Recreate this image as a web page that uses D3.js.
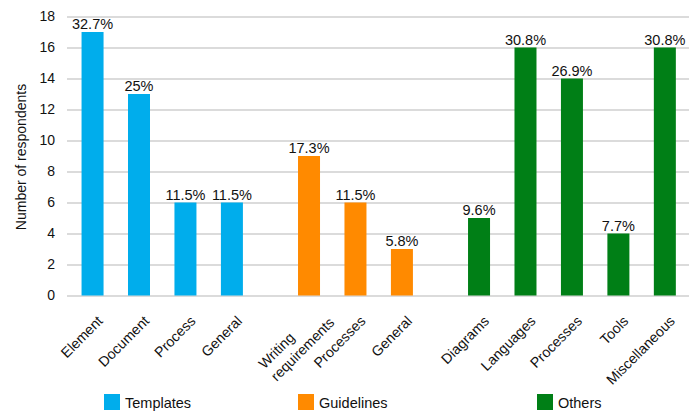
<!DOCTYPE html>
<html><head><meta charset="utf-8">
<script src="https://cdn.jsdelivr.net/npm/d3@7"></script>
<style>
html,body{margin:0;padding:0;background:#fff;}
text{font-family:"Liberation Sans",Arial,Helvetica,sans-serif;fill:#111;}
</style></head>
<body><svg id="chart" width="700" height="414"></svg>
<script>
// ---- data ----
const groups = ["Templates", "Guidelines", "Others"];
const groupColors = ["#00ADEC", "#FF8A00", "#007F16"];
const categories = ["Element", "Document", "Process", "General",
  "Writing\nrequirements", "Processes", "General",
  "Diagrams", "Languages", "Processes", "Tools", "Miscellaneous"];
const categoryGroup = [0,0,0,0, 1,1,1, 2,2,2,2,2];
const values = [17, 13, 6, 6, 9, 6, 3, 5, 16, 14, 4, 16];
const percentLabels = ["32.7%", "25%", "11.5%", "11.5%", "17.3%", "11.5%", "5.8%",
  "9.6%", "30.8%", "26.9%", "7.7%", "30.8%"];
const yTicks = [0, 2, 4, 6, 8, 10, 12, 14, 16, 18];
const yTitle = "Number of respondents";

// ---- layout ----
const svg = d3.select("#chart");
const mLeft = 67, mRight = 689, mTop = 16.5, mBottom = 295.5;
const groupGap = 0.66;
const slots = categories.map((c, i) => i + categoryGroup[i] * groupGap);
const x = d3.scaleLinear().domain([-0.55, d3.max(slots) + 0.52]).range([mLeft, mRight]);
const y = d3.scaleLinear().domain([0, 18]).range([mBottom, mTop]);
const barW = 22;

// gridlines
const yAxis = d3.axisLeft(y).tickValues(yTicks).tickSize(-(mRight - mLeft)).tickPadding(12);
const ga = svg.append("g").attr("transform", `translate(${mLeft},0)`).call(yAxis);
ga.select(".domain").remove();
ga.selectAll(".tick line").attr("stroke", "#cfcfcf").attr("stroke-width", 1.5);
ga.selectAll(".tick text").attr("font-size", 14).style("font-family", '"Liberation Sans",Arial,sans-serif').attr("fill", "#111");

// y title
svg.append("text")
  .attr("transform", `translate(26,157) rotate(-90)`)
  .attr("text-anchor", "middle")
  .attr("font-size", 14)
  .text(yTitle);

// bars
svg.append("g").selectAll("rect").data(values).join("rect")
  .attr("x", (d, i) => x(slots[i]) - barW / 2)
  .attr("width", barW)
  .attr("y", d => y(d))
  .attr("height", d => y(0) - y(d))
  .attr("fill", (d, i) => groupColors[categoryGroup[i]]);

// value labels
svg.append("g").selectAll("text").data(values).join("text")
  .attr("x", (d, i) => x(slots[i]))
  .attr("y", d => y(d) - 3)
  .attr("text-anchor", "middle")
  .attr("font-size", 14.5)
  .text((d, i) => percentLabels[i]);

// category labels
const cl = svg.append("g");
categories.forEach((c, i) => {
  const lines = c.split("\n");
  const multi = lines.length > 1;
  const ax = x(slots[i]) + (multi ? 14 : 11);
  const ay = mBottom + (multi ? 15.5 : 26.5);
  const g = cl.append("g").attr("transform", `translate(${ax},${ay}) rotate(-45)`);
  const t = g.append("text").attr("font-size", 14.2);
  lines.forEach((ln, k) => {
    t.append("tspan").attr("x", 0).attr("dy", k === 0 ? 0 : 17.5).text(ln);
  });
  const widths = [];
  t.selectAll("tspan").each(function(){ widths.push(this.getComputedTextLength()); });
  const maxW = d3.max(widths);
  t.selectAll("tspan").attr("x", -maxW);
});

// legend
const legendX = [104, 298, 537];
groups.forEach((gname, k) => {
  svg.append("rect").attr("x", legendX[k]).attr("y", 394).attr("width", 16).attr("height", 16)
    .attr("fill", groupColors[k]);
  svg.append("text").attr("x", legendX[k] + 21).attr("y", 408).attr("font-size", 14.5).text(gname);
});
</script></body></html>
